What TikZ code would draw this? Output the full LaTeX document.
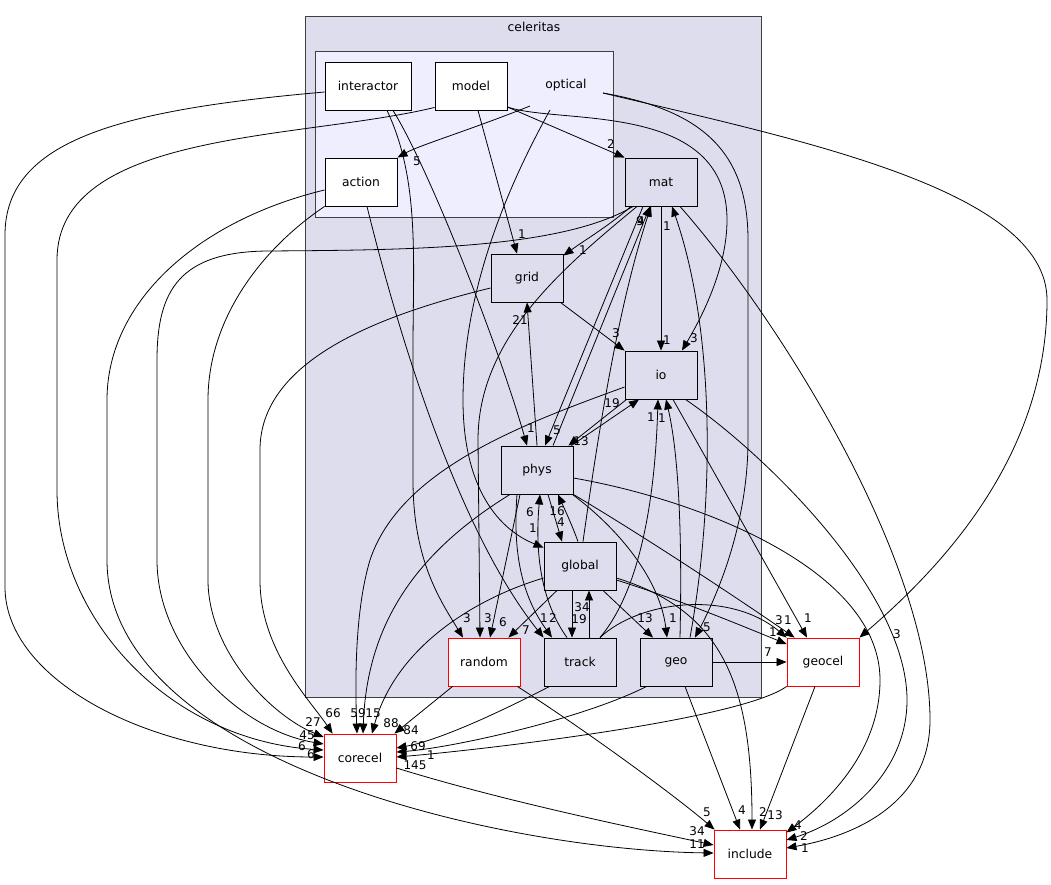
\documentclass[tikz,border=0pt]{standalone}
\usepackage{fontspec}
\setmainfont{DejaVu Sans}
\usetikzlibrary{arrows.meta,calc}
\definecolor{cel}{HTML}{DDDDEE}
\definecolor{opt}{HTML}{EEEEFF}
\definecolor{clb}{HTML}{404040}
\begin{document}
\begin{tikzpicture}[x=1pt,y=-1pt,
  every node/.style={font=\fontsize{12.3}{14}\selectfont},
  gbox/.style={draw=black, fill=cel, minimum width=72pt, minimum height=48pt, inner sep=0pt, line width=0.9pt},
  wbox/.style={gbox, fill=white},
  rbox/.style={gbox, fill=white, draw=red},
  clus/.style={draw=clb, line width=0.9pt, anchor=north west, inner sep=0pt},
  e/.style={draw=black, line width=0.8pt, -{Triangle[length=10pt,width=8pt]}},
  lbl/.style={inner sep=0pt, font=\fontsize{12}{14}\selectfont}]
\fill[white] (0,0) rectangle (1051,884);
\useasboundingbox (0,0) rectangle (1051,884);
% clusters
\node[clus, fill=cel, minimum width=456pt, minimum height=681pt] (celeritasbox) at (305,16) {};
\node (celeritaslbl) at (534,27) {celeritas};
\node[clus, fill=opt, minimum width=298pt, minimum height=166pt] (opticalbox) at (315,51) {};
\node (optical) at (566,85) {optical};
% nodes
\node[wbox, minimum width=86pt] (interactor) at (368,86) {interactor};
\node[wbox] (model) at (471,86) {model};
\node[wbox] (action) at (361,182) {action};
\node[gbox] (mat) at (661,182) {mat};
\node[gbox] (grid) at (527,278) {grid};
\node[gbox] (io) at (661,375) {io};
\node[gbox] (phys) at (537,470) {phys};
\node[gbox] (global) at (580,566) {global};
\node[rbox] (random) at (484,662) {random};
\node[gbox] (track) at (580,662) {track};
\node[gbox] (geo) at (676,662) {geo};
\node[rbox] (geocel) at (823,662) {geocel};
\node[rbox] (corecel) at (360,758) {corecel};
\node[rbox] (include) at (750,854) {include};
% edges into corecel from the left lanes
\draw[e] ([yshift=-6pt]interactor.west) .. controls (120,110) and (5,140) .. (5,235) -- (5,587) .. controls (5,680) and (150,757) .. ([yshift=1pt]corecel.west) node[lbl] at (311,754) {6};
\draw[e] ([yshift=3pt]model.south west) .. controls (300,140) and (57,130) .. (57,260) -- (57,490) .. controls (57,620) and (170,740) .. ([yshift=8pt]corecel.west) node[lbl] at (302,746) {6};
\draw[e] ([yshift=-8pt]action.west) .. controls (200,220) and (107,300) .. (107,400) -- (107,560) .. controls (107,760) and (500,850) .. ([yshift=1pt]include.west) node[lbl] at (697,844) {11};
\draw[e] ([xshift=-28pt]mat.south) .. controls (560,250) and (400,250) .. (267,251) .. controls (180,252) and (157,290) .. (157,360) -- (157,560) .. controls (157,650) and (240,730) .. ([yshift=14pt]corecel.west) node[lbl] at (307,735) {45};
\draw[e] (action.south west) .. controls (260,250) and (208,320) .. (208,400) -- (208,580) .. controls (208,650) and (270,715) .. ([yshift=21pt]corecel.west) node[lbl] at (313,722) {27};
\draw[e] ([yshift=-10pt]grid.west) .. controls (380,315) and (260,360) .. (260,450) -- (260,580) .. controls (260,650) and (310,700) .. ([xshift=9pt]corecel.north west) node[lbl] at (333,713) {66};
% interactor, model, optical
\draw[e] ([xshift=19pt]interactor.south) .. controls (420,180) and (413,260) .. (413,350) -- (413,480) .. controls (413,560) and (440,600) .. ([xshift=-21pt]random.north) node[lbl] at (467,618) {3};
\draw[e] ([xshift=25pt]interactor.south) .. controls (430,170) and (500,350) .. ([xshift=-10pt]phys.north) node[lbl] at (531,428) {1};
\draw[e] ([xshift=7pt]model.south) -- ([xshift=-10pt]grid.north) node[lbl] at (522,234) {1};
\draw[e] ([yshift=-21pt]model.east) -- (mat.north west) node[lbl] at (611,144) {2};
\draw[e] ([yshift=-21pt]model.east) .. controls (560,125) and (727,100) .. (727,220) .. controls (727,270) and (700,320) .. ([xshift=21pt]io.north) node[lbl] at (694,338) {3};
\draw[e] ($(optical)+(-36,21)$) .. controls (470,130) and (420,145) .. (action.north east) node[lbl] at (417,161) {5};
\draw[e] ($(optical)+(-16,25)$) .. controls (500,200) and (463,300) .. (463,400) .. controls (463,490) and (500,530) .. ([yshift=-6pt]global.north west) node[lbl] at (533,528) {1};
\draw[e] ($(optical)+(37,8)$) .. controls (700,110) and (748,150) .. (748,240) -- (748,440) .. controls (748,520) and (720,590) .. ([xshift=19pt]geo.north) node[lbl] at (707,627) {5};
\draw[e] ($(optical)+(37,8)$) .. controls (800,140) and (1047,190) .. (1047,300) .. controls (1047,450) and (950,560) .. (geocel.north east) node[lbl] at (897,634) {3};
% mat
\draw[e] ([xshift=-30pt]mat.south) .. controls (610,225) and (585,240) .. ([yshift=-2pt]grid.north east) node[lbl] at (583,250) {1};
\draw[e] ([xshift=-24pt]mat.south) .. controls (560,270) and (478,340) .. (478,440) -- ([xshift=-4pt]random.north) node[lbl] at (488,618) {3};
\draw[e] ([xshift=-18pt]mat.south) -- ([xshift=8pt]phys.north) node[lbl] at (557,430) {5};
\draw[e] ([xshift=16pt]phys.north) -- ([xshift=-11pt]mat.south) node[lbl] at (640,221) {9};
\draw[e] ([xshift=3pt]global.north) .. controls (600,420) and (620,300) .. ([xshift=-10pt]mat.south) node[lbl] at (641,221) {4};
\draw[e] (mat.south) -- (io.north) node[lbl] at (667,340) {1};
\draw[e] ([xshift=19pt]mat.south) .. controls (780,320) and (930,560) .. (930,720) .. controls (930,800) and (860,835) .. ([yshift=6pt]include.east) node[lbl] at (805,848) {1};
\draw[e] ([xshift=14pt]geo.north) .. controls (715,500) and (715,330) .. ([xshift=11pt]mat.south) node[lbl] at (667,226) {1};
% grid, phys, io
\draw[e] ([xshift=-3pt]grid.south east) -- (io.north west) node[lbl] at (616,333) {3};
\draw[e] (phys.north) -- (grid.south) node[lbl] at (520,320) {21};
\draw[e] ([xshift=-2pt]phys.north east) -- ([xshift=-22pt]io.south) node[lbl] at (612,403) {19};
\draw[e] ([xshift=2pt]io.south west) -- ([xshift=-5pt]phys.north east) node[lbl] at (581,441) {13};
\draw[e] ([yshift=-12pt]io.west) .. controls (520,425) and (400,470) .. (370,560) .. controls (355,610) and (355,680) .. ([xshift=-3pt]corecel.north) node[lbl] at (358,713) {59};
\draw[e] ([xshift=-27pt]phys.south) .. controls (420,550) and (367,620) .. ([xshift=3pt]corecel.north) node[lbl] at (373,713) {15};
\draw[e] ([yshift=-12pt]global.west) .. controls (470,600) and (395,650) .. ([xshift=12pt]corecel.north) node[lbl] at (391,723) {88};
\draw[e] ([xshift=5pt]random.south west) -- ([xshift=-2pt]corecel.north east) node[lbl] at (411,730) {84};
\draw[e] ([xshift=6pt]track.south west) .. controls (500,712) and (440,740) .. ([yshift=10pt]corecel.east) node[lbl] at (418,746) {69};
\draw[e] ([xshift=7pt]geo.south west) .. controls (580,720) and (450,748) .. ([yshift=6pt]corecel.east) node[lbl] at (431,755) {1};
\draw[e] (geocel.south west) .. controls (740,720) and (480,750) .. ([yshift=1pt]corecel.east) node[lbl] at (415,765) {145};
% phys lower
\draw[e] ([xshift=-17pt]phys.south) -- ([xshift=6pt]random.north) node[lbl] at (503,622) {6};
\draw[e] ([xshift=11pt]phys.south) -- ([xshift=-18pt]global.north) node[lbl] at (561,522) {4};
\draw[e] ([xshift=-2pt]global.north) .. controls (572,525) and (565,510) .. ([xshift=21pt]phys.south) node[lbl] at (557,511) {16};
\draw[e] ([xshift=-13pt]track.north) .. controls (540,600) and (535,550) .. ([xshift=3pt]phys.south) node[lbl] at (530,512) {6};
\draw[e] ([xshift=-20pt]phys.south) .. controls (512,560) and (525,600) .. ([xshift=-28pt]track.north) node[lbl] at (553,618) {2};
\draw[e] ([xshift=6pt]action.south) .. controls (390,300) and (450,520) .. (track.north west) node[lbl] at (544,618) {1};
\draw[e] ([xshift=-1pt]phys.south east) .. controls (620,530) and (660,580) .. ([xshift=-9pt]geo.north) node[lbl] at (673,618) {1};
\draw[e] (phys.south east) .. controls (650,540) and (740,600) .. ([xshift=8pt]geocel.north west) node[lbl] at (788,620) {1};
\draw[e] ([yshift=-8pt]phys.east) .. controls (700,500) and (880,570) .. (880,680) .. controls (880,750) and (830,800) .. ([yshift=-3pt]include.north east) node[lbl] at (798,825) {4};
\draw[e] ([xshift=-12pt]io.south east) .. controls (760,450) and (907,590) .. (907,700) .. controls (907,770) and (850,820) .. ([yshift=14pt]include.east) node[lbl] at (804,836) {2};
\draw[e] ([xshift=12pt]io.south) -- ([xshift=-16pt]geocel.north) node[lbl] at (808,618) {1};
% global lower
\draw[e] ([xshift=-23pt]global.south) -- ([xshift=-12pt]random.north east) node[lbl] at (526,630) {7};
\draw[e] ([xshift=-8pt]global.south) -- ([xshift=-8pt]track.north) node[lbl] at (579,619) {19};
\draw[e] ([xshift=9pt]track.north) -- ([xshift=9pt]global.south) node[lbl] at (582,607) {34};
\draw[e] ([xshift=23pt]global.south) -- ([xshift=-23pt]geo.north) node[lbl] at (645,618) {13};
\draw[e] ([yshift=-14pt]global.east) .. controls (680,600) and (740,625) .. ([yshift=18pt]geocel.west) node[lbl] at (773,632) {1};
\draw[e] ([yshift=-12pt]global.east) .. controls (720,610) and (752,680) .. ([xshift=2pt]include.north) node[lbl] at (763,812) {2};
% track, geo
\draw[e] ([xshift=20pt]track.north) .. controls (640,590) and (655,500) .. ([xshift=-3pt]io.south) node[lbl] at (651,417) {1};
\draw[e] ([xshift=4pt]geo.north) .. controls (682,550) and (680,460) .. ([xshift=5pt]io.south) node[lbl] at (662,418) {1};
\draw[e] ([xshift=20pt]track.north) .. controls (640,600) and (730,590) .. (geocel.north west) node[lbl] at (779,620) {3};
\draw[e] (geo.east) -- (geocel.west) node[lbl] at (768,652) {7};
\draw[e] ([xshift=-3pt]random.south east) .. controls (600,740) and (680,800) .. ([xshift=1pt]include.north west) node[lbl] at (707,812) {5};
\draw[e] ([xshift=9pt]geo.south) -- ([xshift=-10pt]include.north) node[lbl] at (742,810) {4};
\draw[e] ([xshift=-8pt]geocel.south) -- ([xshift=10pt]include.north) node[lbl] at (775,815) {13};
\draw[e] ([yshift=-10pt]corecel.east) .. controls (500,800) and (620,825) .. ([yshift=9pt]include.west) node[lbl] at (697,831) {34};
\end{tikzpicture}
\end{document}
